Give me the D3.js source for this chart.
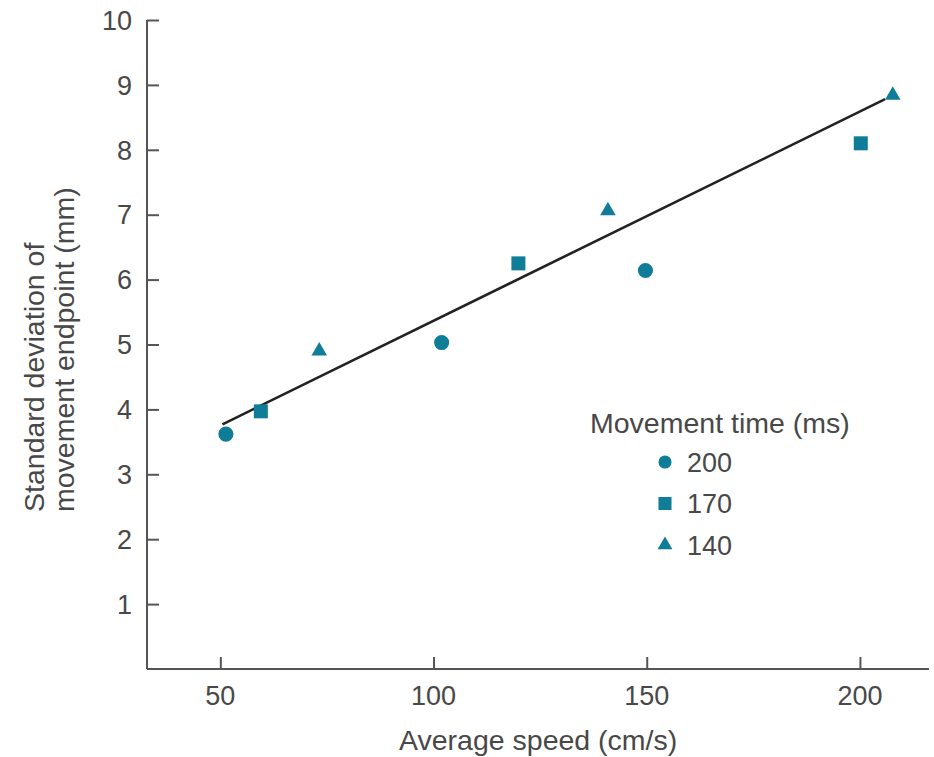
<!DOCTYPE html>
<html>
<head>
<meta charset="utf-8">
<script src="https://cdn.jsdelivr.net/npm/d3@7"></script>
<style>
  html, body { margin: 0; padding: 0; background: #fff; }
  svg { display: block; font-family: "Liberation Sans", Arial, sans-serif; }
</style>
</head>
<body>
<div id="chart"></div>
<script>
// -----------------------------
// Data
// -----------------------------
const groups = ["200", "170", "140"];          // movement time (ms)
const speed200 = [51.3, 101.9, 149.7];
const sd200    = [3.62, 5.03, 6.14];
const speed170 = [59.5, 119.9, 200.2];
const sd170    = [3.97, 6.25, 8.10];
const speed140 = [73.2, 140.9, 207.7];
const sd140    = [4.90, 7.06, 8.84];

const fitX = [50.5, 205.9];
const fitY = [3.77, 8.78];

const xTicks = [50, 100, 150, 200];
const yTicks = [1, 2, 3, 4, 5, 6, 7, 8, 9, 10];

// -----------------------------
// Setup
// -----------------------------
const width = 934, height = 757;
const teal = "#0f7d97";
const axisColor = "#555";
const textColor = "#484848";
const tickFont = 27;
const titleFont = 28.5;

const svg = d3.select("#chart").append("svg")
  .attr("width", width)
  .attr("height", height);

const x = d3.scaleLinear().domain([32.8, 216.2]).range([147, 929]);
const y = d3.scaleLinear().domain([0, 10]).range([669, 20]);

// -----------------------------
// Axes (ticks point inward)
// -----------------------------
const xAxis = svg.append("g")
  .attr("transform", `translate(0,${y(0)})`)
  .call(d3.axisTop(x).tickValues(xTicks).tickSize(12).tickSizeOuter(0).tickFormat(""));

const yAxis = svg.append("g")
  .attr("transform", `translate(${x.range()[0]},0)`)
  .call(d3.axisRight(y).tickValues(yTicks).tickSize(12).tickSizeOuter(0).tickFormat(""));

[xAxis, yAxis].forEach(g => {
  g.select(".domain").attr("stroke", axisColor).attr("stroke-width", 2);
  g.selectAll(".tick line").attr("stroke", axisColor).attr("stroke-width", 2);
});
// make the y-axis line reach the x-axis corner
yAxis.select(".domain").attr("d", `M0,${y(0)}V${y(10)}`);
xAxis.select(".domain").attr("d", `M${x.range()[0]},0H${x.range()[1]}`);

// tick labels
svg.append("g").selectAll("text")
  .data(xTicks)
  .join("text")
  .attr("x", d => x(d))
  .attr("y", y(0) + 36)
  .attr("text-anchor", "middle")
  .attr("fill", textColor)
  .style("font-size", tickFont + "px")
  .text(d => d);

svg.append("g").selectAll("text")
  .data(yTicks)
  .join("text")
  .attr("x", x.range()[0] - 15)
  .attr("y", d => y(d))
  .attr("dy", "0.36em")
  .attr("text-anchor", "end")
  .attr("fill", textColor)
  .style("font-size", tickFont + "px")
  .text(d => d);

// axis titles
svg.append("text")
  .attr("x", 399)
  .attr("y", 750)
  .attr("fill", textColor)
  .style("font-size", titleFont + "px")
  .text("Average speed (cm/s)");

const yTitle = svg.append("text")
  .attr("transform", "translate(0,512) rotate(-90)")
  .attr("fill", textColor)
  .style("font-size", titleFont + "px");
yTitle.append("tspan").attr("x", 0).attr("y", 44).text("Standard deviation of");
yTitle.append("tspan").attr("x", 0).attr("y", 74).text("movement endpoint (mm)");

// -----------------------------
// Regression line
// -----------------------------
svg.append("path")
  .datum(fitX.map((d, i) => [d, fitY[i]]))
  .attr("fill", "none")
  .attr("stroke", "#222")
  .attr("stroke-width", 2.6)
  .attr("d", d3.line().x(d => x(d[0])).y(d => y(d[1])));

// -----------------------------
// Points
// -----------------------------
const series = [
  { name: groups[0], xs: speed200, ys: sd200, type: d3.symbolCircle, size: 180, legSize: 135 },
  { name: groups[1], xs: speed170, ys: sd170, type: d3.symbolSquare, size: 196, legSize: 170 },
  { name: groups[2], xs: speed140, ys: sd140, type: d3.symbolTriangle, size: 105, legSize: 95 }
];

series.forEach(s => {
  svg.append("g").selectAll("path")
    .data(s.xs.map((d, i) => [d, s.ys[i]]))
    .join("path")
    .attr("transform", d => `translate(${x(d[0])},${y(d[1])})`)
    .attr("d", d3.symbol().type(s.type).size(s.size))
    .attr("fill", teal);
});

// -----------------------------
// Legend
// -----------------------------
const legend = svg.append("g").attr("transform", "translate(590,433)");

legend.append("text")
  .attr("x", 0)
  .attr("y", 0)
  .attr("fill", textColor)
  .style("font-size", titleFont + "px")
  .text("Movement time (ms)");

series.forEach((s, i) => {
  const row = legend.append("g").attr("transform", `translate(75,${29 + i * 41.5})`);
  row.append("path")
    .attr("d", d3.symbol().type(s.type).size(s.legSize))
    .attr("fill", teal);
  row.append("text")
    .attr("x", 22)
    .attr("dy", "0.36em")
    .attr("fill", textColor)
    .style("font-size", tickFont + "px")
    .text(s.name);
});
</script>
</body>
</html>
